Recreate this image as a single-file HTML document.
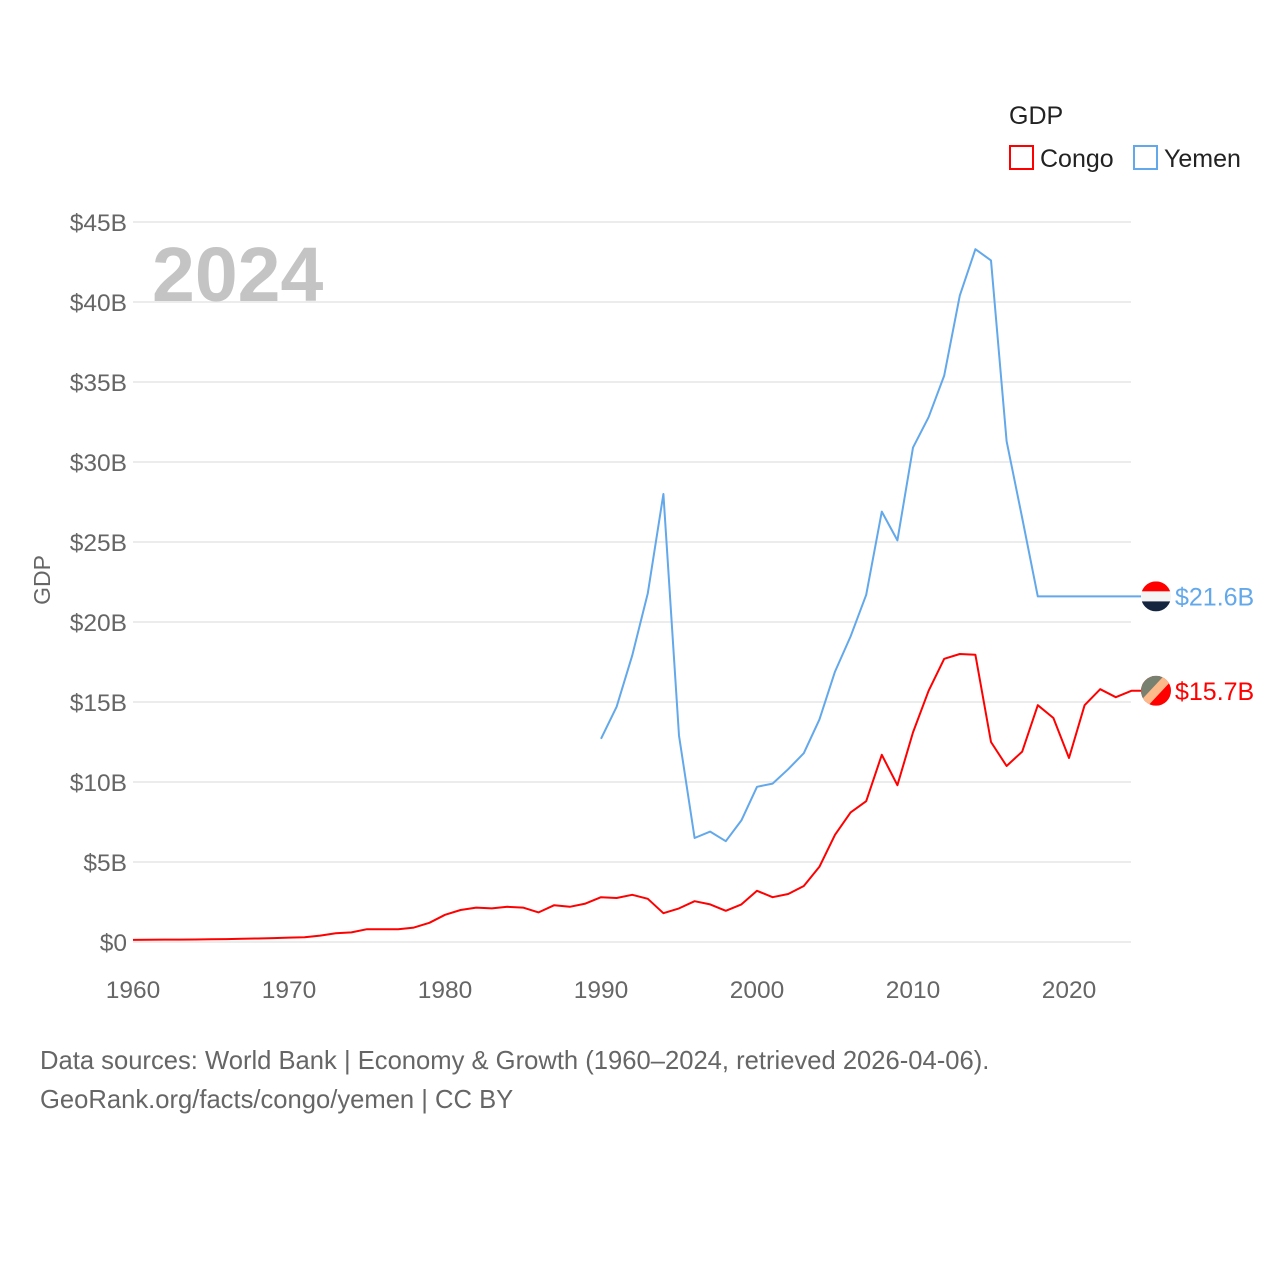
<!DOCTYPE html>
<html><head><meta charset="utf-8"><style>
body{margin:0;background:#fff;}
svg{display:block;font-family:"Liberation Sans",sans-serif;}
</style></head><body>
<svg id="chart" width="1280" height="1280" viewBox="0 0 1280 1280">
<rect width="1280" height="1280" fill="#fff"/>
<g id="grid"></g><g id="yticks"></g><g id="xticks"></g>
<text x="152" y="301" font-size="77" font-weight="bold" fill="#c4c4c4">2024</text>
<text transform="translate(50,580) rotate(-90)" text-anchor="middle" font-size="23" fill="#666">GDP</text>
<g id="series"></g>
<g>
<text x="1009" y="124" font-size="25" fill="#222">GDP</text>
<g><rect x="1010" y="146" width="23" height="23" fill="none" stroke="#f00" stroke-width="2"/><text x="1040" y="167" font-size="25" fill="#222">Congo</text></g>
<g><rect x="1134" y="146" width="23" height="23" fill="none" stroke="#62a8ea" stroke-width="2"/><text x="1164" y="167" font-size="25" fill="#222">Yemen</text></g>
</g>
<text x="40" y="1069" font-size="25.6" fill="#666">Data sources: World Bank | Economy &amp; Growth (1960–2024, retrieved 2026-04-06).</text>
<text x="40" y="1108" font-size="25.6" fill="#666">GeoRank.org/facts/congo/yemen | CC BY</text>
</svg>
<script>
const yemenYears=[1990,1991,1992,1993,1994,1995,1996,1997,1998,1999,2000,2001,2002,2003,2004,2005,2006,2007,2008,2009,2010,2011,2012,2013,2014,2015,2016,2017,2018,2019,2020,2021,2022,2023,2024];
const yemenValues=[12.7,14.7,17.9,21.8,28.0,12.9,6.5,6.9,6.3,7.6,9.7,9.9,10.8,11.8,13.9,16.9,19.1,21.7,26.9,25.1,30.9,32.8,35.4,40.4,43.3,42.6,31.3,26.5,21.6,21.6,21.6,21.6,21.6,21.6,21.6];
const congoStart=1960;
const congoValues=[0.13,0.14,0.15,0.15,0.16,0.17,0.18,0.2,0.22,0.24,0.27,0.3,0.4,0.55,0.6,0.8,0.8,0.8,0.9,1.2,1.7,2.0,2.15,2.1,2.2,2.15,1.85,2.3,2.2,2.4,2.8,2.75,2.95,2.7,1.8,2.1,2.55,2.35,1.95,2.35,3.2,2.8,3.0,3.5,4.7,6.7,8.1,8.8,11.7,9.8,13.1,15.7,17.7,18.0,17.95,12.5,11.0,11.9,14.8,14.0,11.5,14.8,15.8,15.3,15.7];
const yTicks=[0,5,10,15,20,25,30,35,40,45];
const yTickLabels=["$0","$5B","$10B","$15B","$20B","$25B","$30B","$35B","$40B","$45B"];
const xTicks=[1960,1970,1980,1990,2000,2010,2020];
const labels=["$21.6B","$15.7B"];
const NS="http://www.w3.org/2000/svg";
const X=y=>133+(y-1960)*15.6;
const Y=v=>942-v*16;
function mk(tag,attrs,parent){const e=document.createElementNS(NS,tag);for(const k in attrs)e.setAttribute(k,attrs[k]);parent.appendChild(e);return e;}
const grid=document.getElementById('grid'),yt=document.getElementById('yticks'),xt=document.getElementById('xticks'),ser=document.getElementById('series');
yTicks.forEach((v,i)=>{
 const l=mk('line',{x1:133,x2:1131,y1:Y(v),y2:Y(v),stroke:'#e6e6e6','stroke-width':1.5},grid);
 
 
 const t=mk('text',{x:127,y:Y(v)+9,'text-anchor':'end','font-size':24.5,fill:'#666'},yt);
 t.textContent=yTickLabels[i];
 
 
});
xTicks.forEach(y=>{
 const t=mk('text',{x:X(y),y:998,'text-anchor':'middle','font-size':24.5,fill:'#666'},xt);
 t.textContent=y;
 
 
});
const yp=yemenYears.map((y,i)=>X(y)+','+Y(yemenValues[i]));
yp.push('1141,'+Y(yemenValues[yemenValues.length-1]));
const yl=mk('polyline',{points:yp.join(' '),fill:'none',stroke:'#62a8ea','stroke-width':2,'stroke-linejoin':'round'},ser);


const cp=congoValues.map((v,i)=>X(congoStart+i)+','+Y(v));
cp.push('1141,'+Y(congoValues[congoValues.length-1]));
const cl=mk('polyline',{points:cp.join(' '),fill:'none',stroke:'#f00','stroke-width':2,'stroke-linejoin':'round'},ser);


const yv=Y(yemenValues[yemenValues.length-1]);
const fg=mk('g',{},ser);


const cp1=mk('clipPath',{id:'cy'},fg);mk('circle',{cx:1156,cy:yv,r:15},cp1);
mk('rect',{x:1141,y:yv-15,width:30,height:10,fill:'#f00','clip-path':'url(#cy)'},fg);
mk('rect',{x:1141,y:yv-5,width:30,height:10,fill:'#f4f4f4','clip-path':'url(#cy)'},fg);
mk('rect',{x:1141,y:yv+5,width:30,height:10,fill:'#15243f','clip-path':'url(#cy)'},fg);
const cv=Y(congoValues[congoValues.length-1]);
const cg=mk('g',{},ser);


const cp2=mk('clipPath',{id:'cc'},cg);mk('circle',{cx:1156,cy:cv,r:15},cp2);
mk('rect',{x:1141,y:cv-15,width:30,height:30,fill:'#f00','clip-path':'url(#cc)'},cg);
mk('polygon',{points:`1141,${cv-15} 1171,${cv-15} 1141,${cv+15}`,fill:'#78806f','clip-path':'url(#cc)'},cg);
mk('polygon',{points:`1164,${cv-15} 1176,${cv-15} 1148,${cv+15} 1136,${cv+15}`,fill:'#fdb98a','clip-path':'url(#cc)'},cg);
const t1=mk('text',{x:1175,y:yv+9,'font-size':25,fill:'#62a8ea'},ser);t1.textContent=labels[0];


const t2=mk('text',{x:1175,y:cv+9,'font-size':25,fill:'#f00'},ser);t2.textContent=labels[1];


</script>
</body></html>
